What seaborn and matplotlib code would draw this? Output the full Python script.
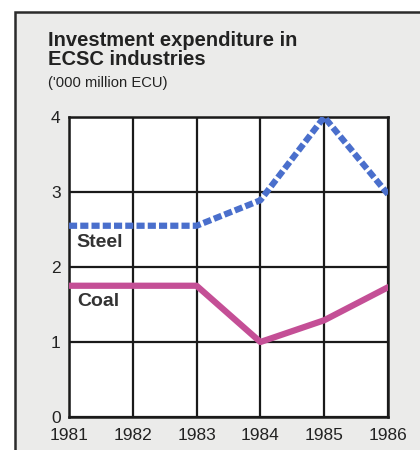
import matplotlib
matplotlib.use("Agg")
import matplotlib.pyplot as plt
import seaborn as sns
import pandas as pd
from matplotlib.patches import Rectangle

years = [1981, 1982, 1983, 1984, 1985, 1986]
steel = [2.55, 2.55, 2.55, 2.89, 4.0, 2.97]
coal = [1.75, 1.75, 1.75, 1.0, 1.29, 1.73]
yticks = [0, 1, 2, 3, 4]

title_lines = ["Investment expenditure in", "ECSC industries"]
subtitle = "('000 million ECU)"

sns.set_style("white")
plt.rcParams['font.family'] = ['Liberation Sans', 'DejaVu Sans']

df = pd.DataFrame({"year": years * 2,
                   "value": steel + coal,
                   "series": ["Steel"] * len(years) + ["Coal"] * len(years)})

W, H = 420, 450
fig = plt.figure(figsize=(4.2, 4.5), dpi=100, facecolor="white")

# framed light-grey panel
bg = Rectangle((15 / W, -0.05), 1.1, (H - 12) / H + 0.05,
               transform=fig.transFigure, facecolor="#ebebea",
               edgecolor="#2b2b2b", linewidth=1.8, zorder=-10)
fig.add_artist(bg)

ax = fig.add_axes([69 / W, (H - 417) / H, (388 - 69) / W, (417 - 117) / H])
ax.set_zorder(5)
ax.set_facecolor("white")

sns.lineplot(data=df[df.series == "Steel"], x="year", y="value", ax=ax,
             color="#4a6fcc", linewidth=4.5, zorder=5)
ax.lines[-1].set_dashes([1.3, 0.5])
sns.lineplot(data=df[df.series == "Coal"], x="year", y="value", ax=ax,
             color="#c44f96", linewidth=4.5, zorder=5)

ax.set_xlim(years[0], years[-1])
ax.set_ylim(0, 4)
ax.set_xticks(years)
ax.set_yticks(yticks)
ax.set_xticklabels([str(y) for y in years], fontsize=12.5, color="#222222")
ax.set_yticklabels([str(v) for v in yticks], fontsize=12.5, color="#222222")
ax.tick_params(length=0)
ax.tick_params(axis="y", pad=6)
ax.tick_params(axis="x", pad=8)
ax.set_xlabel("")
ax.set_ylabel("")
ax.grid(True, color="#1a1a1a", linewidth=1.6)
ax.set_axisbelow(True)
for s in ax.spines.values():
    s.set_visible(True)
    s.set_color("#1a1a1a")
    s.set_linewidth(1.8)

ax.text(1981.11, 2.27, "Steel", fontsize=14, fontweight="bold", color="#333333",
        va="baseline", ha="left", zorder=6)
ax.text(1981.125, 1.48, "Coal", fontsize=14, fontweight="bold", color="#333333",
        va="baseline", ha="left", zorder=6)

fig.text(48 / W, 1 - 46 / H, title_lines[0], fontsize=14.5, fontweight="bold",
         color="#222222", va="baseline", ha="left", zorder=10)
fig.text(48 / W, 1 - 65 / H, title_lines[1], fontsize=14.5, fontweight="bold",
         color="#222222", va="baseline", ha="left", zorder=10)
fig.text(48 / W, 1 - 87 / H, subtitle, fontsize=10.6, color="#222222",
         va="baseline", ha="left", zorder=10)

fig.savefig("out.png", dpi=100, facecolor="white")
